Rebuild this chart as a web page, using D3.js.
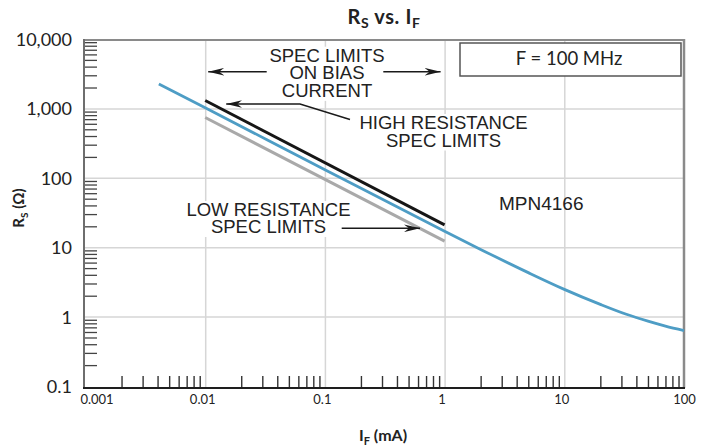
<!DOCTYPE html>
<html><head><meta charset="utf-8">
<script src="https://cdn.jsdelivr.net/npm/d3@7"></script>
<style>
html,body{margin:0;padding:0;background:#fff;}
svg{display:block;}
</style></head>
<body>
<svg id="chart" width="707" height="447"></svg>
<script>
// ---- data ----
const blueCurrent = [0.0041, 0.01, 0.1, 1, 2, 5, 10, 20, 33, 50, 70, 100];
const blueResistance = [2250, 1020, 131, 17, 9.3, 4.3, 2.47, 1.5, 1.08, 0.86, 0.73, 0.63];
const highLimitCurrent = [0.01, 1];
const highLimitResistance = [1300, 21];
const lowLimitCurrent = [0.01, 1];
const lowLimitResistance = [740, 12.2];
const biasLimitCurrent = [0.01, 1];
const xTickValues = [0.001, 0.01, 0.1, 1, 10, 100];
const xTickLabels = ["0.001", "0.01", "0.1", "1", "10", "100"];
const yTickValues = [0.1, 1, 10, 100, 1000, 10000];
const yTickLabels = ["0.1", "1", "10", "100", "1,000", "10,000"];

// ---- layout ----
const svg = d3.select("#chart");
const L = 84, R = 684, T = 40, B = 388;
const x = d3.scaleLog().domain([0.001, 100]).range([85.5, 684]);
const y = d3.scaleLog().domain([0.1, 10000]).range([386, 39]);

const minorX = [], minorY = [];
[0.001, 0.01, 0.1, 1, 10].forEach(d => { for (let k = 2; k <= 9; k++) minorX.push(d * k); });
[0.1, 1, 10, 100, 1000].forEach(d => { for (let k = 2; k <= 9; k++) minorY.push(d * k); });

const defs = svg.append("defs");
defs.append("marker").attr("id", "arr")
  .attr("viewBox", "-16 -4 17 8").attr("refX", 0).attr("refY", 0)
  .attr("markerWidth", 17).attr("markerHeight", 8)
  .attr("orient", "auto").attr("markerUnits", "userSpaceOnUse")
  .append("path").attr("d", "M0,0 L-16,-3.8 L-11,0 L-16,3.8 Z").attr("fill", "#1a1a1a");

// gridlines
const gx = svg.append("g").attr("transform", `translate(0,${B})`)
  .call(d3.axisBottom(x).tickValues(xTickValues.slice(1, -1)).tickSize(-(B - T)).tickFormat(""));
gx.select(".domain").remove();
gx.selectAll("line").attr("stroke", "#d6d6d6").attr("stroke-width", 1.5);
const gy = svg.append("g").attr("transform", `translate(${L},0)`)
  .call(d3.axisLeft(y).tickValues(yTickValues.slice(1, -1)).tickSize(-(R - L)).tickFormat(""));
gy.select(".domain").remove();
gy.selectAll("line").attr("stroke", "#d6d6d6").attr("stroke-width", 1.5);

// minor ticks
const mx = svg.append("g").attr("transform", `translate(0,${B})`)
  .call(d3.axisTop(x).tickValues(minorX).tickSize(12).tickFormat(""));
mx.select(".domain").remove();
mx.selectAll("line").attr("stroke", "#333").attr("stroke-width", 1.4);
const my = svg.append("g").attr("transform", `translate(${L},0)`)
  .call(d3.axisRight(y).tickValues(minorY).tickSize(13).tickFormat(""));
my.select(".domain").remove();
my.selectAll("line").attr("stroke", "#444").attr("stroke-width", 1.3);

// tick labels
const ax = svg.append("g").attr("transform", `translate(0,${B})`)
  .call(d3.axisBottom(x).tickValues(xTickValues).tickSize(0).tickPadding(7)
    .tickFormat((d, i) => xTickLabels[i]));
ax.select(".domain").remove();
ax.selectAll("text").attr("font-family", "Lato, 'Open Sans', sans-serif").attr("font-size", 13).attr("fill", "#222");
ax.selectAll("text").filter((d, i) => i === 0).attr("dx", 11);
ax.selectAll("text").filter((d, i) => i > 0 && i < xTickValues.length - 1).attr("dx", -3);
const ay = svg.append("g").attr("transform", `translate(${L},0)`)
  .call(d3.axisLeft(y).tickValues(yTickValues).tickSize(0).tickPadding(12)
    .tickFormat((d, i) => yTickLabels[i]));
ay.select(".domain").remove();
ay.selectAll("text").attr("font-family", "Lato, 'Open Sans', sans-serif").attr("font-size", 18).attr("fill", "#222")
  .attr("dy", "0.36em");

// frame
svg.append("line").attr("x1", L).attr("x2", R).attr("y1", T).attr("y2", T).attr("stroke", "#8a8a8a").attr("stroke-width", 2);
svg.append("line").attr("x1", R).attr("x2", R).attr("y1", T - 1).attr("y2", B).attr("stroke", "#8a8a8a").attr("stroke-width", 2.5);
svg.append("line").attr("x1", L).attr("x2", L).attr("y1", T - 1).attr("y2", B).attr("stroke", "#6e6e6e").attr("stroke-width", 2);
svg.append("line").attr("x1", L - 1).attr("x2", R + 1).attr("y1", B).attr("y2", B).attr("stroke", "#1e1e1e").attr("stroke-width", 2);

// annotation text blocks (one text element each, white background)
function textBlock(lines, cx, firstBaseline, lh) {
  const g = svg.append("g");
  const t = g.append("text").attr("text-anchor", "middle")
    .attr("font-family", "'Liberation Sans', Arial, sans-serif").attr("font-size", 18.5)
    .attr("fill", "#222");
  lines.forEach((s, i) => {
    t.append("tspan").attr("x", cx).attr("y", firstBaseline + i * lh).text(s);
  });
  const bb = t.node().getBBox();
  g.insert("rect", ":first-child").attr("x", bb.x - 2).attr("y", bb.y + 2).attr("width", bb.width + 4)
    .attr("height", bb.height - 2).attr("fill", "#fff");
}
textBlock(["SPEC LIMITS", "ON BIAS", "CURRENT"], 327, 61.7, 17.6);
textBlock(["HIGH RESISTANCE", "SPEC LIMITS"], 443.5, 129, 17.5);
textBlock(["LOW RESISTANCE", "SPEC LIMITS"], 268.5, 216, 17);

svg.append("text").attr("x", 499).attr("y", 210)
  .attr("font-family", "'Liberation Sans', Arial, sans-serif").attr("font-size", 19).attr("fill", "#222")
  .text("MPN4166");

// legend box
svg.append("rect").attr("x", 460).attr("y", 43).attr("width", 221).attr("height", 33)
  .attr("fill", "#fff").attr("stroke", "#555").attr("stroke-width", 1.5);
svg.append("text").attr("x", 569).attr("y", 65).attr("text-anchor", "middle")
  .attr("font-family", "Lato, 'Open Sans', sans-serif").attr("font-size", 18.5).attr("fill", "#222")
  .text("F = 100 MHz");

// data lines
const line = d3.line().x(d => x(d[0])).y(d => y(d[1])).curve(d3.curveMonotoneX);
svg.append("path").datum(lowLimitCurrent.map((c, i) => [c, lowLimitResistance[i]]))
  .attr("d", line).attr("fill", "none").attr("stroke", "#a9a9a9").attr("stroke-width", 3);
svg.append("path").datum(highLimitCurrent.map((c, i) => [c, highLimitResistance[i]]))
  .attr("d", line).attr("fill", "none").attr("stroke", "#161616").attr("stroke-width", 3);
svg.append("path").datum(blueCurrent.map((c, i) => [c, blueResistance[i]]))
  .attr("d", line).attr("fill", "none").attr("stroke", "#4e9dc5").attr("stroke-width", 2.8);

// arrows
const arrowY = 71.7;
svg.append("line").attr("x1", 266.7).attr("x2", x(biasLimitCurrent[0]) + 3).attr("y1", arrowY).attr("y2", arrowY)
  .attr("stroke", "#1a1a1a").attr("stroke-width", 1.5).attr("marker-end", "url(#arr)");
svg.append("line").attr("x1", 383.3).attr("x2", x(biasLimitCurrent[1]) - 4).attr("y1", arrowY).attr("y2", arrowY)
  .attr("stroke", "#1a1a1a").attr("stroke-width", 1.5).attr("marker-end", "url(#arr)");
svg.append("polyline").attr("points", `350,119.5 300,104 ${x(highLimitCurrent[0]) + 21},104`)
  .attr("fill", "none").attr("stroke", "#1a1a1a").attr("stroke-width", 1.5).attr("marker-end", "url(#arr)");
svg.append("line").attr("x1", 341.7).attr("x2", 420).attr("y1", 228.3).attr("y2", 228.3)
  .attr("stroke", "#1a1a1a").attr("stroke-width", 1.5).attr("marker-end", "url(#arr)");

// titles
const title = svg.append("text").attr("x", 384).attr("y", 24).attr("text-anchor", "middle")
  .attr("font-family", "Lato, sans-serif").attr("font-weight", "bold").attr("font-size", 20)
  .attr("letter-spacing", 0.6).attr("fill", "#222");
title.append("tspan").text("R");
title.append("tspan").attr("font-size", 14).attr("dy", 4).text("S");
title.append("tspan").attr("dy", -4).text(" vs. I");
title.append("tspan").attr("font-size", 14).attr("dy", 4).text("F");

const xt = svg.append("text").attr("x", 383).attr("y", 441).attr("text-anchor", "middle")
  .attr("font-family", "Lato, sans-serif").attr("font-weight", "bold").attr("font-size", 16).attr("fill", "#222");
xt.append("tspan").text("I");
xt.append("tspan").attr("font-size", 11).attr("dy", 4).text("F");
xt.append("tspan").attr("dy", -4).text(" (mA)");

const yt = svg.append("text").attr("transform", "translate(24,208) rotate(-90)").attr("text-anchor", "middle")
  .attr("font-family", "Lato, sans-serif").attr("font-weight", "bold").attr("font-size", 15).attr("fill", "#222");
yt.append("tspan").text("R");
yt.append("tspan").attr("font-size", 10).attr("dy", 4).text("S");
yt.append("tspan").attr("dy", -4).text(" (Ω)");
</script>
</body></html>
